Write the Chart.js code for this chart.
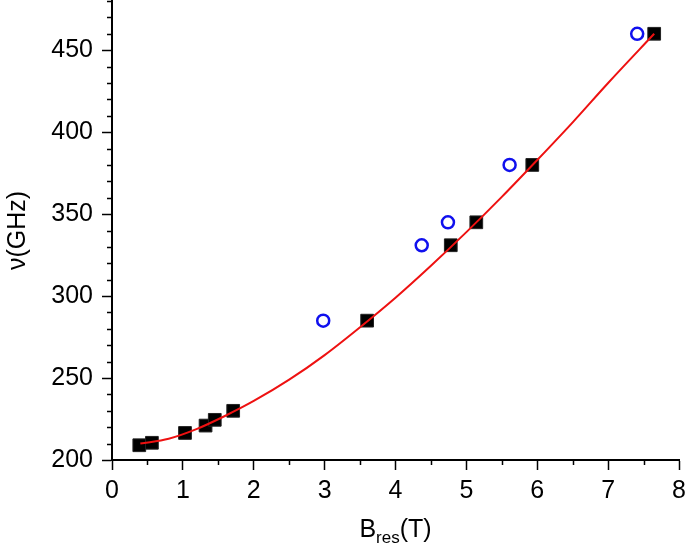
<!DOCTYPE html>
<html>
<head>
<meta charset="utf-8">
<script src="https://cdn.jsdelivr.net/npm/chart.js@4.4.0/dist/chart.umd.min.js"></script>
<style>
  body { margin: 0; background: #fff; }
  canvas { display: block; }
</style>
</head>
<body>
<canvas id="resChart" width="685" height="550"></canvas>
<script>
// measured points (black squares)
const fieldSq = [0.385, 0.563, 1.03, 1.32, 1.45, 1.71, 3.60, 4.78, 5.14, 5.93, 7.65];
const freqSq = [209, 210.5, 216.5, 221, 224.5, 230, 285, 331, 345, 380, 460];
// open circles
const fieldCirc = [2.98, 4.37, 4.74, 5.61, 7.41];
const freqCirc = [285, 331, 345, 380, 460];
// red fit curve
const fitField = [0.4, 0.8, 1.2, 1.6, 2.0, 2.5, 3.0, 3.5, 4.0, 4.5, 5.0, 5.5, 6.0, 6.5, 7.0, 7.65];
const fitFreq = [210, 213, 219, 227, 236, 249, 264, 281, 299, 318.5, 339, 360.5, 383, 406, 430, 460];

const FONT = "'Liberation Sans', Arial, sans-serif";

const toXY = (xs, ys) => xs.map((x, i) => ({ x: x, y: ys[i] }));

// drop the label-overhang padding so the plot fills the canvas like the original
const noOverhang = (s) => {
  s.paddingTop = s.paddingBottom = s.paddingLeft = s.paddingRight = 0;
};

// minor ticks + axis titles (x title needs a subscript)
const extras = {
  id: "extras",
  afterDraw(chart) {
    const ctx = chart.ctx;
    const xs = chart.scales.x;
    const ys = chart.scales.y;
    ctx.save();
    ctx.strokeStyle = "#000";
    ctx.lineWidth = 1.5;
    ctx.beginPath();
    for (let v = 210; v <= 480; v += 10) {
      if (v % 50 === 0) continue;
      const py = Math.round(ys.getPixelForValue(v)) + 0.5;
      ctx.moveTo(xs.left, py);
      ctx.lineTo(xs.left - 5, py);
    }
    for (let v = 0.5; v < 8; v += 1) {
      const px = Math.round(xs.getPixelForValue(v)) + 0.5;
      ctx.moveTo(px, ys.bottom);
      ctx.lineTo(px, ys.bottom + 5);
    }
    ctx.stroke();

    ctx.fillStyle = "#000";
    // y title
    ctx.save();
    ctx.translate(25, (ys.top + ys.bottom) / 2);
    ctx.rotate(-Math.PI / 2);
    ctx.font = "25px " + FONT;
    ctx.textAlign = "center";
    ctx.textBaseline = "alphabetic";
    ctx.fillText("ν(GHz)", 0, 0);
    ctx.restore();

    // x title  B_res(T)
    const big = "25px " + FONT;
    const small = "17px " + FONT;
    ctx.font = big;
    const wB = ctx.measureText("B").width;
    const wT = ctx.measureText("(T)").width;
    ctx.font = small;
    const wR = ctx.measureText("res").width;
    let x0 = (xs.left + xs.right) / 2 - (wB + wR + wT) / 2;
    const base = 537;
    ctx.textAlign = "left";
    ctx.textBaseline = "alphabetic";
    ctx.font = big;
    ctx.fillText("B", x0, base);
    ctx.font = small;
    ctx.fillText("res", x0 + wB, base + 6);
    ctx.font = big;
    ctx.fillText("(T)", x0 + wB + wR, base);
    ctx.restore();
  },
};

new Chart(document.getElementById("resChart"), {
  type: "scatter",
  data: {
    datasets: [
      {
        type: "line",
        label: "fit",
        data: toXY(fitField, fitFreq),
        borderColor: "#ee1111",
        borderWidth: 2,
        pointRadius: 0,
        fill: false,
        tension: 0.4,
        cubicInterpolationMode: "monotone",
      },
      {
        label: "squares",
        data: toXY(fieldSq, freqSq),
        pointStyle: "rect",
        pointRadius: 9,
        backgroundColor: "#000",
        borderColor: "#222",
        borderWidth: 1,
      },
      {
        label: "circles",
        data: toXY(fieldCirc, freqCirc),
        pointStyle: "circle",
        pointRadius: 6,
        backgroundColor: "rgba(0,0,0,0)",
        borderColor: "#1010ee",
        borderWidth: 2.5,
      },
    ],
  },
  options: {
    responsive: false,
    animation: false,
    layout: { autoPadding: false, padding: { top: 1, right: 6, left: 0, bottom: 0 } },
    plugins: {
      legend: { display: false },
      tooltip: { enabled: false },
    },
    scales: {
      x: {
        type: "linear",
        min: 0,
        max: 8,
        ticks: {
          stepSize: 1,
          color: "#000",
          font: { size: 25, family: FONT },
          padding: 6,
          maxRotation: 0,
        },
        grid: {
          drawOnChartArea: false,
          drawTicks: true,
          tickLength: 10,
          tickColor: "#000",
          tickWidth: 1.5,
        },
        border: { display: true, color: "#000", width: 2 },
        afterFit: (s) => { s.height = 90; noOverhang(s); },
      },
      y: {
        type: "linear",
        min: 200,
        max: 480,
        ticks: {
          stepSize: 50,
          includeBounds: false,
          color: "#000",
          font: { size: 25, family: FONT },
          padding: 9,
        },
        grid: {
          drawOnChartArea: false,
          drawTicks: true,
          tickLength: 10,
          tickColor: "#000",
          tickWidth: 1.5,
        },
        border: { display: true, color: "#000", width: 2 },
        afterFit: (s) => { s.width = 112; noOverhang(s); },
      },
    },
  },
  plugins: [extras],
});
</script>
</body>
</html>
